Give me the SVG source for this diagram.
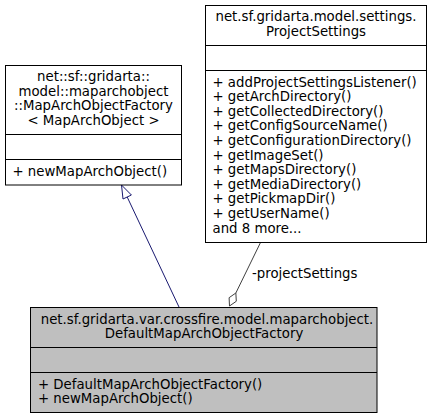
<svg xmlns="http://www.w3.org/2000/svg" width="432" height="419" viewBox="0 0 432 419">
<style>
text{font-family:"DejaVu Sans",sans-serif;font-size:13.3px;fill:#000}
.c{text-anchor:middle}
.box{fill:#fff;stroke:#000;stroke-width:1}
.cur{fill:#bfbfbf;stroke:#000;stroke-width:1}
.sep{stroke:#000;stroke-width:1}
</style>
<rect width="432" height="419" fill="#fff"/>
<g id="connectors">
  <path d="M179,307 L127.2,197" fill="none" stroke="#191970" stroke-width="1"/>
  <polygon points="121.5,185 131.4,195 123,199" fill="#fff" stroke="#191970" stroke-width="1"/>
  <path d="M260.5,242.5 L235.85,293" fill="none" stroke="#404040" stroke-width="1"/>
  <polygon points="229.5,306 236.3,301.25 235.85,293 229.1,297.7" fill="#fff" stroke="#404040" stroke-width="1"/>
  <text x="252" y="278">-projectSettings</text>
</g>
<g id="MapArchObjectFactory">
  <rect class="box" x="5.5" y="65.5" width="176" height="119.5"/>
  <line class="sep" x1="5.5" y1="134.5" x2="181.5" y2="134.5"/>
  <line class="sep" x1="5.5" y1="159.5" x2="181.5" y2="159.5"/>
  <text class="c" x="93.5" y="81">net::sf::gridarta::</text>
  <text class="c" x="93.5" y="95.6">model::maparchobject</text>
  <text class="c" x="93.5" y="110.2">::MapArchObjectFactory</text>
  <text class="c" x="93.5" y="124.8">&lt; MapArchObject &gt;</text>
  <text x="12.5" y="175.5">+ newMapArchObject()</text>
</g>
<g id="ProjectSettings">
  <rect class="box" x="205.5" y="5.5" width="221" height="237"/>
  <line class="sep" x1="205.5" y1="45.5" x2="426.5" y2="45.5"/>
  <line class="sep" x1="205.5" y1="70.5" x2="426.5" y2="70.5"/>
  <text class="c" x="316" y="21">net.sf.gridarta.model.settings.</text>
  <text class="c" x="316" y="35.6">ProjectSettings</text>
  <text x="212.5" y="86.5">+ addProjectSettingsListener()</text>
  <text x="212.5" y="101.1">+ getArchDirectory()</text>
  <text x="212.5" y="115.7">+ getCollectedDirectory()</text>
  <text x="212.5" y="130.3">+ getConfigSourceName()</text>
  <text x="212.5" y="144.9">+ getConfigurationDirectory()</text>
  <text x="212.5" y="159.5">+ getImageSet()</text>
  <text x="212.5" y="174.1">+ getMapsDirectory()</text>
  <text x="212.5" y="188.7">+ getMediaDirectory()</text>
  <text x="212.5" y="203.3">+ getPickmapDir()</text>
  <text x="212.5" y="217.9">+ getUserName()</text>
  <text x="212.5" y="232.5">and 8 more...</text>
</g>
<g id="DefaultMapArchObjectFactory">
  <rect class="cur" x="30.5" y="307.5" width="346.5" height="105"/>
  <line class="sep" x1="30.5" y1="347.5" x2="377" y2="347.5"/>
  <line class="sep" x1="30.5" y1="372.5" x2="377" y2="372.5"/>
  <text class="c" x="207" y="323.5">net.sf.gridarta.var.crossfire.model.maparchobject.</text>
  <text class="c" x="204" y="338.1">DefaultMapArchObjectFactory</text>
  <text x="38" y="388.5">+ DefaultMapArchObjectFactory()</text>
  <text x="38" y="403.1">+ newMapArchObject()</text>
</g>
</svg>
